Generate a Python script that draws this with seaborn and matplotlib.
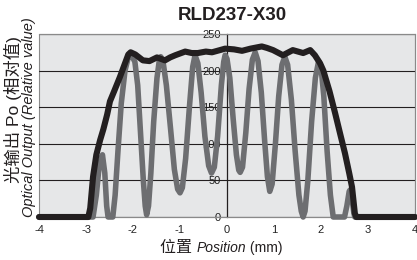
import numpy as np
import pandas as pd
import matplotlib
matplotlib.use("Agg")
import matplotlib.pyplot as plt
import seaborn as sns

# Values
title = "RLD237-X30"

# grey curve (oscillating output)
pos_osc = [-4.0, -2.85, -2.78, -2.72, -2.65, -2.6, -2.56, -2.53, -2.43, -2.38,
           -2.32, -2.25, -2.17, -2.1, -2.03, -1.96, -1.9, -1.84, -1.78, -1.74,
           -1.71, -1.67, -1.62, -1.56, -1.49, -1.44, -1.41, -1.36, -1.29, -1.2,
           -1.12, -1.05, -1.0, -0.95, -0.88, -0.8, -0.73, -0.68, -0.62, -0.55,
           -0.47, -0.39, -0.33, -0.27, -0.2, -0.12, -0.07, -0.04, 0.0, 0.06,
           0.13, 0.2, 0.25, 0.28, 0.33, 0.4, 0.47, 0.54, 0.6, 0.66,
           0.73, 0.8, 0.86, 0.91, 0.96, 1.03, 1.1, 1.17, 1.23, 1.29,
           1.37, 1.45, 1.53, 1.58, 1.62, 1.66, 1.72, 1.8, 1.88, 1.95,
           2.0, 2.06, 2.13, 2.2, 2.26, 2.5, 2.55, 2.6, 2.62, 2.66,
           2.7, 2.72, 4.0]
val_osc = [0, 0, 30, 70, 85, 60, 15, 0, 0, 30,
           90, 155, 200, 218, 221, 212, 180, 115, 50, 15,
           3, 15, 60, 130, 190, 214, 219, 212, 180, 120,
           65, 38, 33, 40, 80, 150, 205, 221, 210, 170,
           110, 70, 60, 68, 110, 180, 212, 221, 216, 190,
           135, 85, 64, 61, 68, 115, 175, 215, 225, 213,
           170, 105, 55, 35, 45, 100, 165, 208, 219, 208,
           160, 90, 30, 8, 0, 8, 50, 130, 190, 213,
           205, 165, 90, 30, 0, 0, 15, 35, 37, 25,
           5, 0, 0]

# black curve (envelope)
pos_env = [-4.0, -2.95, -2.91, -2.85, -2.78, -2.7, -2.63, -2.55, -2.49, -2.4,
           -2.28, -2.17, -2.1, -2.05, -1.95, -1.79, -1.65, -1.49, -1.32, -1.21,
           -1.1, -0.89, -0.75, -0.62, -0.45, -0.32, -0.15, -0.04, 0.15, 0.32,
           0.5, 0.74, 0.85, 0.98, 1.19, 1.4, 1.62, 1.77, 1.87, 1.98,
           2.05, 2.18, 2.3, 2.41, 2.51, 2.6, 2.66, 2.72, 2.75, 4.0]
val_env = [0, 0, 12, 55, 85, 105, 120, 140, 158, 172,
           191, 210, 222, 225, 222, 214, 213, 218, 214, 218,
           221, 226, 224, 224, 226, 225, 228, 230, 229, 227,
           230, 233, 231, 228, 221, 228, 224, 228, 221, 210,
           200, 172, 142, 113, 87, 60, 41, 5, 0, 0]

x_ticks = [-4, -3, -2, -1, 0, 1, 2, 3, 4]
y_ticks = [0, 50, 100, 150, 200, 250]

osc = pd.DataFrame({"pos": pos_osc, "val": val_osc})
env = pd.DataFrame({"pos": pos_env, "val": val_env})

sns.set_style("white")
plt.rcParams["font.family"] = ["Liberation Sans", "Noto Sans CJK SC", "DejaVu Sans"]
plt.rcParams["axes.unicode_minus"] = False

fig = plt.figure(figsize=(4.17, 2.6), dpi=100)
ax = fig.add_axes([39 / 417, 1 - 217 / 260, 376 / 417, 183 / 260])
ax.set_facecolor("#e6e7e8")

sns.lineplot(data=osc, x="pos", y="val", ax=ax, color="#6d6e71",
             linewidth=4.0, sort=False, clip_on=False, zorder=3)
sns.lineplot(data=env, x="pos", y="val", ax=ax, color="#231f20",
             linewidth=4.4, sort=False, clip_on=False, zorder=4)

ax.set_xlim(-4, 4)
ax.set_ylim(0, 250)
ax.set_xticks(x_ticks)
ax.set_yticks(y_ticks)
ax.set_xlabel("")
ax.set_ylabel("")

# horizontal grid
ax.yaxis.grid(True, color="#231f20", linewidth=0.8)
ax.xaxis.grid(False)

# frame in grey, y axis moved to x = 0
for s in ["top", "right", "bottom"]:
    ax.spines[s].set_color("#8a8a8a")
    ax.spines[s].set_linewidth(0.8)
ax.spines["left"].set_position(("data", 0))
ax.spines["left"].set_color("#231f20")
ax.spines["left"].set_linewidth(0.9)
ax.patch.set_edgecolor("#8a8a8a")
ax.patch.set_linewidth(0.8)

ax.tick_params(axis="x", direction="in", length=3, width=0.6, color="#8a8a8a",
               labelsize=8, pad=5.5, labelcolor="#222222")
ax.tick_params(axis="y", length=0, labelsize=8, pad=4.3, labelcolor="#222222")

# title
fig.text(232 / 417, 1 - 15 / 260, title, ha="center", va="center",
         fontsize=13.5, fontweight="bold", color="#231f20")

# x label: 位置 Position (mm)
t1 = fig.text(160 / 417, 0.03, "位置 ", ha="left", va="baseline",
              fontsize=11.5, color="#231f20")
t2 = ax.annotate("Position", xy=(1, 0), xycoords=t1, ha="left", va="bottom",
                 fontsize=10, style="italic", color="#231f20")
ax.annotate(" (mm)", xy=(1, 0), xycoords=t2, ha="left", va="bottom",
            fontsize=10, color="#231f20")

# y label, two lines
fig.text(13 / 417, 1 - 110 / 260, "光输出 Po (相对值)", rotation=90,
         ha="center", va="center", fontsize=12.5, color="#231f20")
fig.text(29 / 417, 1 - 117 / 260, "Optical Output (Relative value)", rotation=90,
         ha="center", va="center", fontsize=10.5, style="italic", color="#231f20")

fig.savefig("out.png", dpi=100)
